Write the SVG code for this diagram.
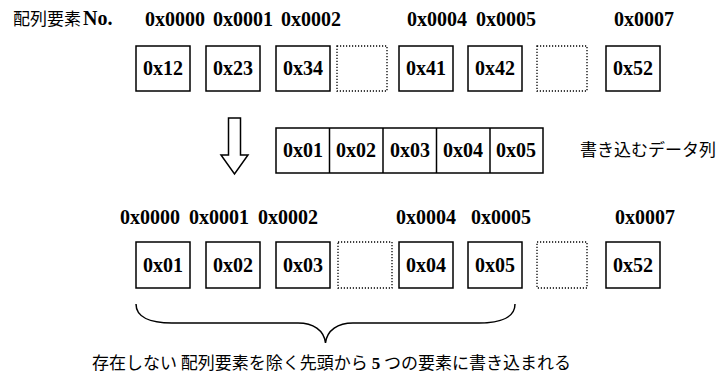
<svg xmlns="http://www.w3.org/2000/svg" width="727" height="380" viewBox="0 0 727 380">
<style>
.bx{fill:#fff;stroke:#000;stroke-width:1.5}
.dt{fill:#fff;stroke:#000;stroke-width:1.3;stroke-dasharray:1.2 1.8}
.hx{font-family:"Liberation Serif","Times New Roman",serif;font-weight:bold;font-size:20px;fill:#000}
.bt{font-family:"Liberation Serif","Times New Roman",serif;font-weight:bold;font-size:20px;fill:#000;text-anchor:middle}
.jp{font-family:"Noto Sans CJK JP",sans-serif;font-size:17px;fill:#000}
.ln{fill:none;stroke:#000;stroke-width:1.5}
</style>
<rect width="727" height="380" fill="#fff"/>
<g id="header">
<text class="jp" x="13" y="25">配列要素</text>
<text class="hx" x="83" y="25">No.</text>
</g>
<g id="top-labels">
<text class="hx" x="145" y="26">0x0000</text>
<text class="hx" x="213" y="26">0x0001</text>
<text class="hx" x="281" y="26">0x0002</text>
<text class="hx" x="407" y="26">0x0004</text>
<text class="hx" x="476" y="26">0x0005</text>
<text class="hx" x="614" y="26">0x0007</text>
</g>
<g id="top-row">
<g id="t0"><rect class="bx" x="136" y="46" width="54" height="45"/><text class="bt" x="163" y="75">0x12</text></g>
<g id="t1"><rect class="bx" x="206" y="46" width="54" height="45"/><text class="bt" x="233" y="75">0x23</text></g>
<g id="t2"><rect class="bx" x="276" y="46" width="54" height="45"/><text class="bt" x="303" y="75">0x34</text></g>
<g id="t3"><rect class="dt" x="337" y="46" width="50" height="45"/></g>
<g id="t4"><rect class="bx" x="399" y="46" width="54" height="45"/><text class="bt" x="426" y="75">0x41</text></g>
<g id="t5"><rect class="bx" x="468" y="46" width="54" height="45"/><text class="bt" x="495" y="75">0x42</text></g>
<g id="t6"><rect class="dt" x="537" y="46" width="50" height="45"/></g>
<g id="t7"><rect class="bx" x="606" y="46" width="54" height="45"/><text class="bt" x="633" y="75">0x52</text></g>
</g>
<g id="data">
<rect class="bx" x="276" y="128" width="267" height="45"/>
<line class="ln" x1="329.5" y1="128" x2="329.5" y2="173"/>
<line class="ln" x1="383" y1="128" x2="383" y2="173"/>
<line class="ln" x1="436.5" y1="128" x2="436.5" y2="173"/>
<line class="ln" x1="490" y1="128" x2="490" y2="173"/>
<text class="bt" x="303" y="157">0x01</text>
<text class="bt" x="356" y="157">0x02</text>
<text class="bt" x="410" y="157">0x03</text>
<text class="bt" x="463" y="157">0x04</text>
<text class="bt" x="516" y="157">0x05</text>
</g>
<g id="data-label"><text class="jp" x="580" y="156">書き込むデータ列</text></g>
<g id="bottom-labels">
<text class="hx" x="120" y="224">0x0000</text>
<text class="hx" x="189" y="224">0x0001</text>
<text class="hx" x="258" y="224">0x0002</text>
<text class="hx" x="396" y="224">0x0004</text>
<text class="hx" x="471" y="224">0x0005</text>
<text class="hx" x="615" y="224">0x0007</text>
</g>
<g id="bottom-row">
<g id="b0"><rect class="bx" x="136" y="242" width="54" height="46"/><text class="bt" x="163" y="272">0x01</text></g>
<g id="b1"><rect class="bx" x="206" y="242" width="54" height="46"/><text class="bt" x="233" y="272">0x02</text></g>
<g id="b2"><rect class="bx" x="276" y="242" width="54" height="46"/><text class="bt" x="303" y="272">0x03</text></g>
<g id="b3"><rect class="dt" x="338" y="242" width="54" height="46"/></g>
<g id="b4"><rect class="bx" x="399" y="242" width="54" height="46"/><text class="bt" x="426" y="272">0x04</text></g>
<g id="b5"><rect class="bx" x="468" y="242" width="54" height="46"/><text class="bt" x="495" y="272">0x05</text></g>
<g id="b6"><rect class="dt" x="537" y="242" width="50" height="46"/></g>
<g id="b7"><rect class="bx" x="606" y="242" width="54" height="46"/><text class="bt" x="633" y="272">0x52</text></g>
</g>
<g id="connectors">
<path class="ln" stroke-width="1.3" fill="#fff" d="M228.5,118 L240.5,118 L240.5,155 L248,155 L234.5,174 L221,155 L228.5,155 Z"/>
<path class="ln" d="M136,304 C136,317 150,323 172,323 L298,323 C313,323 324,330 325.5,343 C327,330 338,323 353,323 L479,323 C501,323 515,317 515,304"/>
</g>
<g id="caption">
<text class="jp" x="92" y="369">存在しない 配列要素を除く先頭から <tspan style="font-family:'Liberation Serif',serif;font-weight:bold">5</tspan> つの要素に書き込まれる</text>
</g>
</svg>
